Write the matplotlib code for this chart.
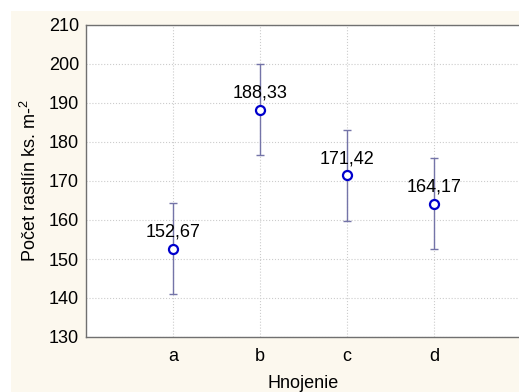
import numpy as np
import matplotlib.pyplot as plt
from matplotlib.patches import Rectangle

plt.rcParams['font.family'] = ['Liberation Sans', 'DejaVu Sans']
plt.rcParams['mathtext.fontset'] = 'custom'
plt.rcParams['mathtext.rm'] = 'Liberation Sans'
plt.rcParams['mathtext.default'] = 'regular'

# data
groups = ['a', 'b', 'c', 'd']
means = [152.67, 188.33, 171.42, 164.17]
upper = [164.4, 200.0, 183.1, 175.9]
lower = [140.9, 176.7, 159.7, 152.5]
labels = ['152,67', '188,33', '171,42', '164,17']

fig = plt.figure(figsize=(5.19, 3.92), dpi=100)
fig.patch.set_facecolor('white')
fig.patches.append(Rectangle((11/519, 0), 1, 381/392, transform=fig.transFigure,
                             facecolor='#fcf8ee', edgecolor='none', zorder=-10))

ax = fig.add_axes([86/519, 55/392, 435/519, 312/392])
ax.set_facecolor('white')

x = np.arange(1, len(groups) + 1)
m = np.array(means)
err = [m - np.array(lower), np.array(upper) - m]
ax.errorbar(x, m, yerr=err, fmt='none', ecolor='#7474a8', elinewidth=1,
            capsize=3, capthick=1, zorder=2)
ax.plot(x, m, 'o', markersize=6.5, markerfacecolor='white',
        markeredgecolor='#0000cc', markeredgewidth=1.6, zorder=3)
for xi, yi, t in zip(x, m, labels):
    ax.annotate(t, (xi, yi), xytext=(0, 12), textcoords='offset points',
                ha='center', va='center', fontsize=13)

ax.set_xlim(0, 5)
ax.set_ylim(130, 210)
ax.set_xticks(x)
ax.set_xticklabels(groups)
ax.set_yticks(np.arange(130, 211, 10))
ax.tick_params(length=0, labelsize=13)
ax.tick_params(axis='x', pad=8)
ax.tick_params(axis='y', pad=5)
ax.grid(True, linestyle=':', color='#cccccc', linewidth=0.8)
ax.set_axisbelow(True)
for s in ax.spines.values():
    s.set_color('#707070')
    s.set_linewidth(1)

ax.set_xlabel('Hnojenie', fontsize=13, labelpad=7)
ax.set_ylabel('Počet rastlín ks. m-$^{2}$', fontsize=13, labelpad=6)

fig.savefig('out.png', dpi=100, facecolor=fig.get_facecolor())
